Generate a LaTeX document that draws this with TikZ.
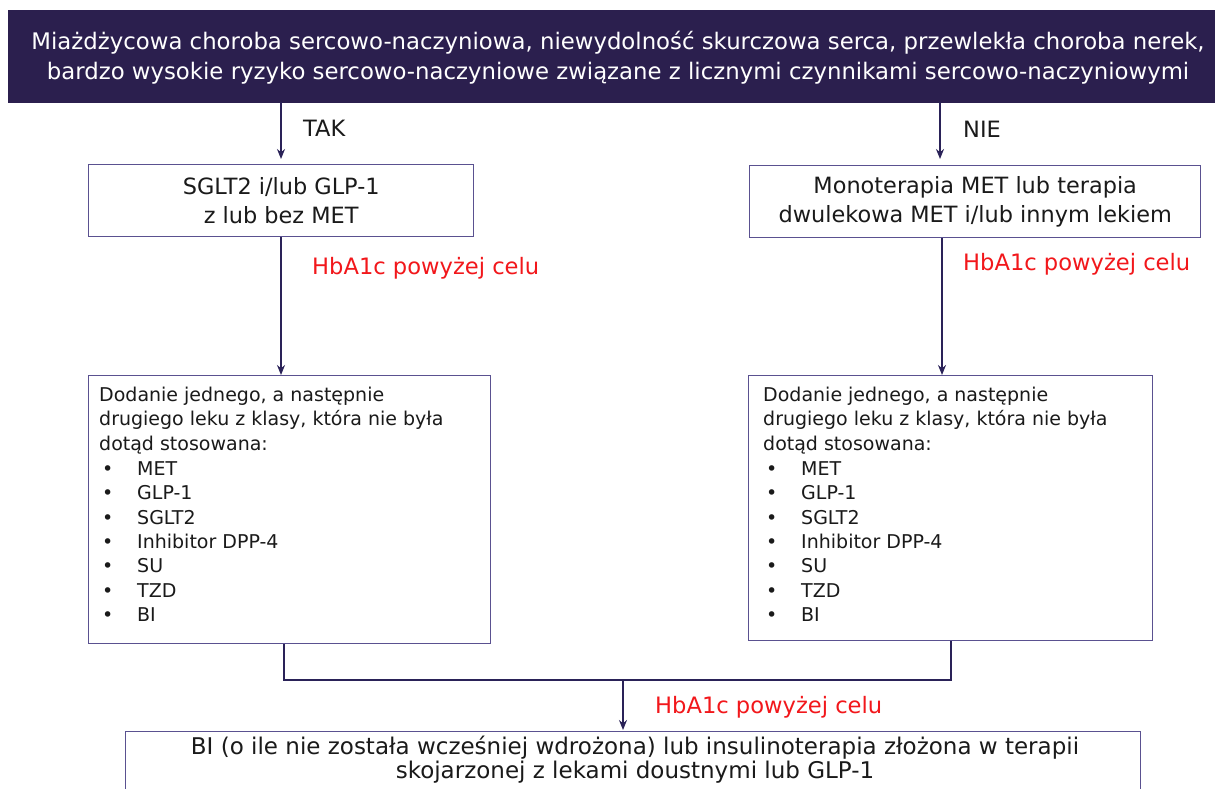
\documentclass[tikz,border=0pt]{standalone}
\usepackage{fontspec}
\setmainfont{DejaVu Sans}
\usetikzlibrary{arrows.meta,calc}
\definecolor{navy}{HTML}{2B1F4E}
\definecolor{linec}{HTML}{2A2258}
\definecolor{boxc}{HTML}{5A5190}
\definecolor{redt}{HTML}{F2171B}
\definecolor{txt}{HTML}{1A1A1A}
\newcommand{\itmb}[1]{\hspace*{3pt}\makebox[35pt][l]{•}#1}
\begin{document}
\begin{tikzpicture}[x=1pt,y=-1pt,
  box/.style={draw=boxc,line width=1.4pt,inner sep=0pt,text=txt,align=center},
  conn/.style={draw=linec,line width=1.6pt},
  arr/.style={conn,-{Stealth[length=10pt,width=8pt]}},
  lbl/.style={inner sep=0pt,anchor=west,text=txt,font=\fontsize{22.5}{27}\selectfont},
  rlbl/.style={inner sep=0pt,anchor=west,text=redt,font=\fontsize{22.6}{27}\selectfont},
  listtxt/.style={inner sep=0pt,anchor=north west,align=left,text=txt,font=\fontsize{19}{24.3}\selectfont}]
\useasboundingbox (0,0) rectangle (1220,789);
\clip (0,0) rectangle (1220,789);
\fill[white] (0,0) rectangle (1220,789);
% banner
\node[fill=navy,draw=navy,inner sep=0pt,minimum width=1206pt,minimum height=92pt,anchor=north west] (banner) at (8,10) {};
\node[text=white,inner sep=0pt,align=center,font=\fontsize{22.8}{30}\selectfont] (bannert) at (618,58)
 {Miażdżycowa choroba sercowo-naczyniowa, niewydolność skurczowa serca, przewlekła choroba nerek,\\bardzo wysokie ryzyko sercowo-naczyniowe związane z licznymi czynnikami sercowo-naczyniowymi};
% second row
\node[box,minimum width=385pt,minimum height=72pt,anchor=north west,font=\fontsize{22.4}{28.5}\selectfont] (b1) at (88,164) {SGLT2 i/lub GLP-1\\z lub bez MET};
\node[box,minimum width=451pt,minimum height=72pt,anchor=north west,font=\fontsize{22.4}{28.5}\selectfont] (b2) at (749,165) {Monoterapia MET lub terapia\\dwulekowa MET i/lub innym lekiem};
% list boxes
\node[box,minimum width=402pt,minimum height=268pt,anchor=north west] (b3) at (88,375) {};
\node[listtxt] (b3t) at (99,387)
 {Dodanie jednego, a następnie\\drugiego leku z klasy, która nie była\\dotąd stosowana:\\[1pt]
  \itmb{MET}\\\itmb{GLP-1}\\\itmb{SGLT2}\\\itmb{Inhibitor DPP-4}\\\itmb{SU}\\\itmb{TZD}\\\itmb{BI}};
\node[box,minimum width=404pt,minimum height=265pt,anchor=north west] (b4) at (748,375) {};
\node[listtxt] (b4t) at (763,387)
 {Dodanie jednego, a następnie\\drugiego leku z klasy, która nie była\\dotąd stosowana:\\[1pt]
  \itmb{MET}\\\itmb{GLP-1}\\\itmb{SGLT2}\\\itmb{Inhibitor DPP-4}\\\itmb{SU}\\\itmb{TZD}\\\itmb{BI}};
% bottom box
\node[box,minimum width=1015pt,minimum height=100pt,anchor=north west] (b5) at (125,731) {};
\node[inner sep=0pt,text=txt,align=center,font=\fontsize{23}{24}\selectfont] (b5t) at (635,760) {BI (o ile nie została wcześniej wdrożona) lub insulinoterapia złożona w terapii\\skojarzonej z lekami doustnymi lub GLP-1};
% coordinates
\coordinate (lx) at (281,0);
\coordinate (rx) at (940,0);
\coordinate (rx2) at (942,0);
\coordinate (lx3) at (284,0);
\coordinate (rx4) at (951,0);
\coordinate (jy) at (0,680);
\coordinate (mx) at (623,0);
% connectors
\draw[arr,shorten >=5pt] (banner.south -| lx) -- (lx |- b1.north);
\draw[arr,shorten >=6pt] (banner.south -| rx) -- (rx |- b2.north);
\draw[arr] (b1.south -| lx) -- (lx |- b3.north);
\draw[arr] (b2.south -| rx2) -- (rx2 |- b4.north);
\draw[conn] (b3.south -| lx3) -- (lx3 |- jy) -- (rx4 |- jy) -- (rx4 |- b4.south);
\draw[arr,shorten >=1pt] (mx |- jy) -- (mx |- b5.north);
% labels
\node[lbl] (tak) at (303,128) {TAK};
\node[lbl] (nie) at (963,129) {NIE};
\node[rlbl] (h1) at (312,268) {HbA1c powyżej celu};
\node[rlbl] (h2) at (963,264) {HbA1c powyżej celu};
\node[rlbl] (h3) at (655,707) {HbA1c powyżej celu};
\end{tikzpicture}
\end{document}
